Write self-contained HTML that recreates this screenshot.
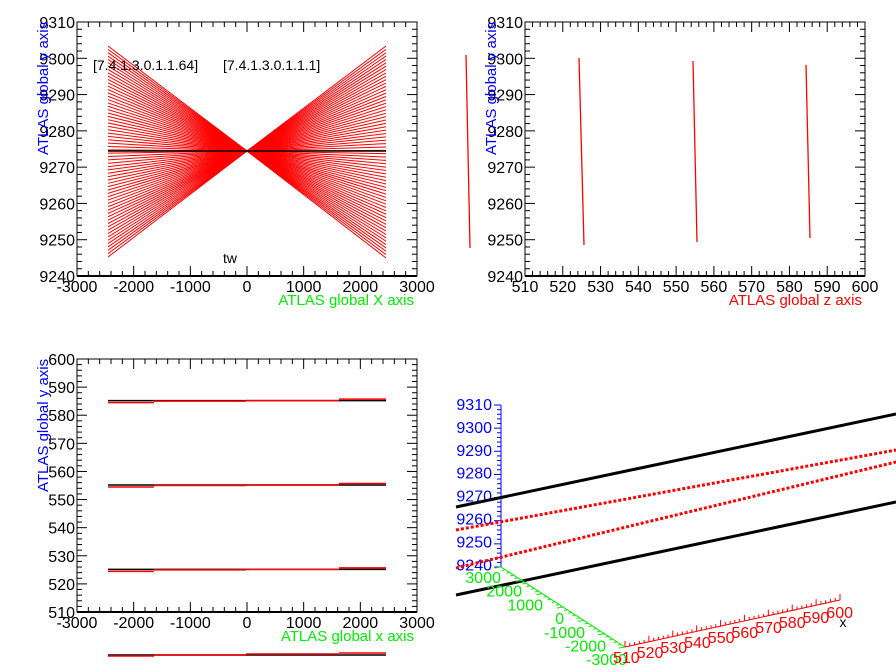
<!DOCTYPE html>
<html><head><meta charset="utf-8"><style>
html,body{margin:0;padding:0;background:#fff;}
svg{display:block;font-family:"Liberation Sans",Arial,sans-serif;}
</style></head><body>
<svg id="s" width="896" height="672" viewBox="0 0 896 672" xmlns="http://www.w3.org/2000/svg"></svg>
<script>
const s=document.getElementById('s');let h='';
function L(x1,y1,x2,y2,c,w,extra){h+=`<line x1="${x1}" y1="${y1}" x2="${x2}" y2="${y2}" stroke="${c}" stroke-width="${w||1}" ${extra||''}/>`;}
function T(x,y,t,c,sz,anc,rot){h+=`<text x="${x}" y="${y}" fill="${c}" font-size="${sz||15}" text-anchor="${anc||'start'}" ${rot?`transform="rotate(-90 ${x} ${y})"`:''}>${t}</text>`;}
function frame(x0,y0,x1,y1,xmin,xmax,xmaj,xsub,ymin,ymax,ymaj,ysub,xl,yl){
 h+=`<rect x="${x0}" y="${y0}" width="${x1-x0}" height="${y1-y0}" fill="none" stroke="#000" stroke-width="1"/>`;
 L(x0,y1,x1,y1,'#000',2);
 const fx=v=>x0+(v-xmin)/(xmax-xmin)*(x1-x0), fy=v=>y1-(v-ymin)/(ymax-ymin)*(y1-y0);
 const dx=xmaj/xsub;
 for(let v=xmin;v<=xmax+1e-6;v+=dx){const k=Math.round((v-xmin)/dx)%xsub==0;const len=k?10:5;const X=fx(v);L(X,y1,X,y1-len,'#000',1);L(X,y0,X,y0+len,'#000',1);}
 const dy=ymaj/ysub;
 for(let v=ymin;v<=ymax+1e-6;v+=dy){const k=Math.round((v-ymin)/dy)%ysub==0;const len=k?10:5;const Y=fy(v);L(x0,Y,x0+len,Y,'#000',1);L(x1,Y,x1-len,Y,'#000',1);}
 xl.forEach(v=>T(fx(v),y1+16,v,'#000',16,'middle'));
 yl.forEach(v=>T(x0-2,fy(v)+6,v,'#000',16,'end'));
 return [fx,fy];
}
// Pad 1
let [fx,fy]=frame(77,22,417,276,-3000,3000,1000,5,9240,9310,10,5,[-3000,-2000,-1000,0,1000,2000,3000],[9240,9250,9260,9270,9280,9290,9300,9310]);
for(let i=0;i<64;i++){const yl=46+i*(257-46)/63;L(108,yl,247,151,'#f00',1);const yr=46+i*(258-46)/63;L(386,yr,247,151,'#f00',1);}
L(108,151,386,151,'#000',1.5);
T(93,70,'[7.4.1.3.0.1.1.64]','#000',14);T(223,70,'[7.4.1.3.0.1.1.1]','#000',14);
T(230,263,'tw','#000',14,'middle');
T(414,305,'ATLAS global X axis','#0e0',15,'end');
T(48,155,'ATLAS global y axis','#00f',15,'start',true);
// Pad 2
frame(525,22,865,276,510,600,10,5,9240,9310,10,5,[510,520,530,540,550,560,570,580,590,600],[9240,9250,9260,9270,9280,9290,9300,9310]);
[[466,55,470,248],[579,58,584,245],[693,61,697,242],[806,65,810,238]].forEach(a=>L(a[0],a[1],a[2],a[3],'#f00',1.3));
T(862,305,'ATLAS global z axis','#f00',15,'end');
T(496,155,'ATLAS global y axis','#00f',15,'start',true);
// Pad 3
[fx,fy]=frame(77,359,417,612,-3000,3000,1000,5,510,600,10,5,[-3000,-2000,-1000,0,1000,2000,3000],[510,520,530,540,550,560,570,580,590,600]);
[585,555,525].forEach(v=>{const Y=fy(v);L(108,Y-0.5,386,Y-0.5,'#000',1.5);
 L(108,Y+1.5,154,Y+1.5,'#f00',1.5);L(154,Y,246,Y,'#f00',1.5);L(246,Y-0.5,339,Y-0.5,'#f00',1.5);L(339,Y-2,386,Y-2,'#f00',1.5);});
L(108,655,386,655,'#000',1.5);L(108,656,154,656,'#f00',1.5);L(154,655,246,655,'#f00',1.5);L(246,654,339,654,'#f00',1.5);L(339,653,386,653,'#f00',1.5);
T(414,641,'ATLAS global x axis','#0e0',15,'end');
T(48,492,'ATLAS global y axis','#00f',15,'start',true);
// Pad 4 (3D)
L(501,405,501,567,'#00f',1);
for(let i=0;i<=35;i++){const Y=405+i*(162/35);L(501,Y,i%5==0?494:497,Y,'#00f',1);}
[9310,9300,9290,9280,9270,9260,9250,9240].forEach((v,i)=>T(492,410+i*22.9,v,'#00f',16,'end'));
L(456,507,896,414,'#000',3);L(456,595,896,502,'#000',3);
L(456,530,896,450,'#f00',3,'stroke-dasharray="3,2"');L(456,568,896,462,'#f00',3,'stroke-dasharray="3,2"');
L(501,567,625,647,'#0e0',1);
for(let i=0;i<=30;i++){const X=501+i*124/30,Y=567+i*80/30;L(X,Y,X-(i%5==0?6:3),Y+1,'#0e0',1);}
[['3000',0],['2000',1],['1000',2],['0',3],['-1000',4],['-2000',5],['-3000',6]].forEach(a=>T(501+a[1]*21,583+a[1]*13.7,a[0],'#0e0',16,'end'));
L(625,647,840,600,'#f00',1);
for(let i=0;i<=45;i++){const X=625+i*215/45,Y=647-i*47/45;L(X,Y,X,Y-(i%5==0?6:3),'#f00',1);}
for(let i=0;i<=9;i++){T(613+i*23.7,663-i*5,510+i*10,'#f00',16,'start','');}
T(843,627,'x','#000',14,'middle');
s.innerHTML=h;
</script>
</body></html>
